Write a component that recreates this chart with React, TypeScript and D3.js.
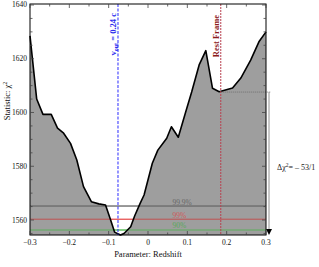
import React from 'react';
import * as d3 from 'd3';

// redshift grid and fit statistic
const redshift = [-0.3, -0.283, -0.267, -0.246, -0.23, -0.2145, -0.197, -0.181, -0.164, -0.144,
  -0.125, -0.108, -0.095, -0.085, -0.07, -0.061, -0.044, -0.034, -0.02, -0.01,
  0.011, 0.025, 0.041, 0.0476, 0.0595, 0.077, 0.096, 0.111, 0.13, 0.147,
  0.164, 0.181, 0.215, 0.236, 0.261, 0.282, 0.3];
const chi2 = [1628.5, 1605.0, 1599.3, 1599.3, 1594.2, 1592.3, 1588.5, 1582.3, 1572.4, 1566.8,
  1566.0, 1565.6, 1560.0, 1555.5, 1554.4, 1555.0, 1557.5, 1561.5, 1566.2, 1569.3,
  1581.1, 1586.0, 1589.1, 1590.4, 1594.7, 1590.8, 1600.3, 1607.6, 1617.7, 1623.0,
  1609.0, 1607.7, 1609.1, 1612.8, 1619.5, 1626.3, 1630.0];

const confLabels = ['99.9%', '99%', '90%'];
const confValues = [1565.2, 1560.3, 1556.3];
const confColors = ['#333', '#e02020', '#60c060'];
const confMuted = ['#5a5a5a', '#c05050', '#70a870'];
const confText = ['#666', '#d05858', '#58a858'];

const xTicks = [-0.3, -0.2, -0.1, 0, 0.1, 0.2, 0.3];
const yTicks = [1560, 1580, 1600, 1620, 1640];

const outflowZ = -0.0763;
const restZ = 0.185;
const restChi2 = 1607.6;

const W = 319, H = 267;
const L = 30, R = 266, T = 4, B = 235;
const font = '"Liberation Serif", "DejaVu Serif", serif';

export default function App() {
  const x = d3.scaleLinear().domain([-0.3, 0.3]).range([L, R]);
  const y = d3.scaleLinear().domain([1554.42, 1640.37]).range([B, T]);
  const pts = redshift.map((z, i) => [z, chi2[i]] as [number, number]);
  const area = d3.area<[number, number]>().x(d => x(d[0])).y0(B).y1(d => y(d[1]))(pts) || '';
  const line = d3.line<[number, number]>().x(d => x(d[0])).y(d => y(d[1]))(pts) || '';

  const minorX = d3.range(-0.3, 0.3001, 0.05);
  const minorY = d3.range(1555, 1641, 5);
  const fmtX = (v: number) => (v === 0 ? '0' : (v < 0 ? '\u2212' : '') + Math.abs(v).toFixed(1));
  const ax = R + 3;

  return (
    <svg width={W} height={H} style={{ position: 'absolute', left: 0, top: 0, background: '#fff' }} fontFamily={font}>
      <defs>
        <clipPath id="under"><path d={area} /></clipPath>
      </defs>
      {confValues.map((v, i) => (
        <line key={'c' + i} x1={L} x2={R} y1={y(v)} y2={y(v)} stroke={confColors[i]} strokeWidth={i === 2 ? 1.5 : 1} />
      ))}
      <path d={area} fill="#9e9e9e" />
      <g clipPath="url(#under)">
        {confValues.map((v, i) => (
          <line key={'m' + i} x1={L} x2={R} y1={y(v)} y2={y(v)} stroke={confMuted[i]} strokeWidth={i === 2 ? 1.5 : 1} />
        ))}
      </g>
      {confValues.map((v, i) => (
        <text key={'t' + i} x={x(0.062)} y={y(v) - 1.5} fontSize={7.5} fill={confText[i]}>{confLabels[i]}</text>
      ))}
      <path d={line} fill="none" stroke="#000" strokeWidth={1.6} strokeLinejoin="round" />

      {/* outflow and rest-frame markers */}
      <line x1={x(outflowZ)} x2={x(outflowZ)} y1={T} y2={B} stroke="#2b2bff" strokeWidth={1} strokeDasharray="3,1.5" />
      <text transform={`translate(${x(outflowZ) - 1.5},${T + 9}) rotate(-90)`} textAnchor="end" fontSize={8.5} fontWeight="bold" fill="#2b2bee">
        v<tspan fontSize={6} dy={2}>out</tspan><tspan dy={-2}> = 0.24 c</tspan>
      </text>
      <line x1={x(restZ)} x2={x(restZ)} y1={T} y2={B} stroke="#b84050" strokeWidth={1} strokeDasharray="2,1" />
      <text transform={`translate(${x(restZ) - 1.5},${T + 11}) rotate(-90)`} textAnchor="end" fontSize={8.5} fontWeight="bold" fill="#8b1a1a">Rest Frame</text>

      {/* delta chi2 bracket */}
      <line x1={x(restZ)} x2={ax + 2} y1={y(restChi2)} y2={y(restChi2)} stroke="#666" strokeWidth={0.8} strokeDasharray="1,1" />
      <line x1={ax} x2={ax} y1={y(restChi2)} y2={B - 4} stroke="#777" strokeWidth={0.8} />
      <path d={`M${ax - 3},${B - 6}L${ax + 3},${B - 6}L${ax},${B}Z`} fill="#000" />
      <text x={277} y={170} fontSize={8} fill="#222">
        {'\u0394\u03c7'}<tspan fontSize={5.5} dy={-3}>2</tspan><tspan dy={3}>{'= \u2013 53/1'}</tspan>
      </text>

      {/* frame and ticks */}
      <rect x={L} y={T} width={R - L} height={B - T} fill="none" stroke="#000" strokeWidth={1} />
      {minorX.map((v, i) => {
        const major = Math.abs(Math.round(v * 10) - v * 10) < 1e-6;
        const len = major ? 4 : 2.5;
        return (
          <g key={'xt' + i} stroke="#444" strokeWidth={0.8}>
            <line x1={x(v)} x2={x(v)} y1={B} y2={B - len} />
            <line x1={x(v)} x2={x(v)} y1={T} y2={T + len} />
          </g>
        );
      })}
      {minorY.map((v, i) => {
        const len = v % 20 === 0 ? 4 : 2.5;
        return (
          <g key={'yt' + i} stroke="#444" strokeWidth={0.8}>
            <line x1={L} x2={L + len} y1={y(v)} y2={y(v)} />
            <line x1={R} x2={R - len} y1={y(v)} y2={y(v)} />
          </g>
        );
      })}
      {xTicks.map(v => (
        <text key={'xl' + v} x={x(v)} y={245} textAnchor="middle" fontSize={7.5} fill="#111">{fmtX(v)}</text>
      ))}
      {yTicks.map(v => (
        <text key={'yl' + v} x={27} y={y(v) + 2.5} textAnchor="end" fontSize={7.5} fill="#111">{v}</text>
      ))}
      <text x={(L + R) / 2} y={257} textAnchor="middle" fontSize={8.5} fill="#111">Parameter: Redshift</text>
      <text transform={`translate(10,101) rotate(-90)`} textAnchor="middle" fontSize={8.5} fill="#111">
        Statistic: {'\u03c7'}<tspan fontSize={6} dy={-3}>2</tspan>
      </text>
    </svg>
  );
}
